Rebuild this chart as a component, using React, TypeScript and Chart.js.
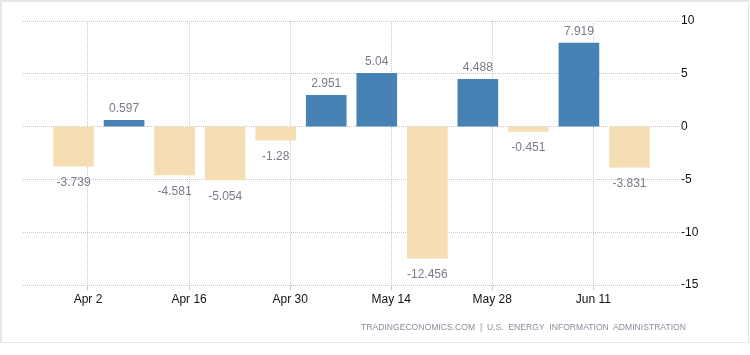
import React, { useEffect, useRef } from "react";
import { Chart, registerables } from "chart.js";

Chart.register(...registerables);

// Weekly change in crude inventories (million barrels), week ending dates
const weekEnding = [
  "2017-03-31", "2017-04-07", "2017-04-14", "2017-04-21", "2017-04-28", "2017-05-05",
  "2017-05-12", "2017-05-19", "2017-05-26", "2017-06-02", "2017-06-09", "2017-06-16",
];
const changes = [-3.739, 0.597, -4.581, -5.054, -1.28, 2.951, 5.04, -12.456, 4.488, -0.451, 7.919, -3.831];
const tickDates = ["2017-04-02", "2017-04-16", "2017-04-30", "2017-05-14", "2017-05-28", "2017-06-11"];
const tickLabels = ["Apr 2", "Apr 16", "Apr 30", "May 14", "May 28", "Jun 11"];
const axisStart = "2017-03-24";
const axisEnd = "2017-06-23";
const yMin = -15;
const yMax = 10;
const yStep = 5;
const source = "TRADINGECONOMICS.COM  |  U.S.  ENERGY  INFORMATION  ADMINISTRATION";

const BASE = Date.parse("2017-04-02T00:00:00Z");
const dayOf = (d: string) => Math.round((Date.parse(d + "T00:00:00Z") - BASE) / 86400000);

const UP = "#4682b4";
const DOWN = "#f5deb3";
const GRID = "#c8c8c8";
const FONT = "'Liberation Sans', Arial, sans-serif";

const valueLabels = {
  id: "valueLabels",
  afterDatasetsDraw(chart: any) {
    const ctx = chart.ctx;
    const meta = chart.getDatasetMeta(0);
    ctx.save();
    ctx.font = `12px ${FONT}`;
    ctx.fillStyle = "#7a7a88";
    ctx.textAlign = "center";
    ctx.textBaseline = "alphabetic";
    meta.data.forEach((bar: any, i: number) => {
      const v = changes[i];
      const y = v >= 0 ? bar.y - 8 : bar.y + 20;
      ctx.fillText(String(v), bar.x, y);
    });
    ctx.restore();
  },
};

export default function App() {
  const ref = useRef<HTMLCanvasElement>(null);

  useEffect(() => {
    if (!ref.current) return;
    const tickDays = tickDates.map(dayOf);
    const chart = new Chart(ref.current, {
      type: "bar",
      data: {
        datasets: [
          {
            data: weekEnding.map((d, i) => ({ x: dayOf(d), y: changes[i] })),
            backgroundColor: changes.map((v) => (v >= 0 ? UP : DOWN)),
            borderWidth: 0,
            barThickness: 40,
          },
        ],
      },
      options: {
        responsive: false,
        animation: false,
        events: [],
        layout: { padding: { left: 23, top: 21, right: 0, bottom: 0 } },
        plugins: { legend: { display: false }, tooltip: { enabled: false } },
        scales: {
          x: {
            type: "linear",
            min: dayOf(axisStart),
            max: dayOf(axisEnd),
            offset: false,
            afterBuildTicks: (scale: any) => {
              scale.ticks = tickDays.map((v) => ({ value: v }));
            },
            afterFit: (scale: any) => {
              scale.height = 70;
            },
            grid: { offset: false, color: GRID, tickColor: GRID, tickLength: 5, drawTicks: true, lineWidth: 1 },
            border: { display: false, dash: [1, 1] },
            ticks: {
              autoSkip: false,
              maxRotation: 0,
              padding: 2,
              color: "#111",
              font: { family: FONT, size: 12 },
              callback: (_v: any, i: number) => tickLabels[i],
            },
          },
          y: {
            position: "right",
            min: yMin,
            max: yMax,
            afterFit: (scale: any) => {
              scale.width = 70;
            },
            grid: { color: GRID, drawTicks: false, lineWidth: 1 },
            border: { display: false, dash: [1, 1] },
            ticks: {
              stepSize: yStep,
              padding: 1,
              color: "#111",
              font: { family: FONT, size: 12 },
            },
          },
        },
      },
      plugins: [valueLabels],
    });
    return () => chart.destroy();
  }, []);

  return (
    <div style={{ position: "fixed", left: 0, top: 0, width: 750, height: 355, background: "#fff" }}>
      <div
        style={{
          position: "absolute",
          left: 0,
          top: 0,
          width: 749,
          height: 343,
          boxSizing: "border-box",
          border: "1px solid #e6e6e6",
          borderWidth: "2px 1px 1px 2px",
        }}
      />
      <canvas ref={ref} width={750} height={355} style={{ position: "absolute", left: 0, top: 0 }} />
      <div
        style={{
          position: "absolute",
          right: 64,
          top: 321,
          fontFamily: FONT,
          fontSize: 8.6,
          color: "#8a8e9c",
          whiteSpace: "pre",
          lineHeight: "12px",
        }}
      >
        {source}
      </div>
    </div>
  );
}
